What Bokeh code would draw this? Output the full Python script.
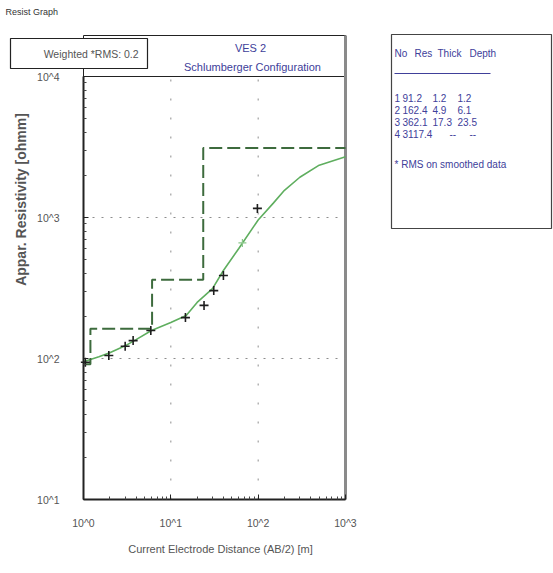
import math
from bokeh.plotting import figure
from bokeh.models import Range1d, FixedTicker, CustomJSTickFormatter, Label
from bokeh.embed import file_html
from bokeh.resources import INLINE
from bokeh.core.properties import value

# ---------------- data ----------------
layer_no = [1, 2, 3, 4]
layer_res = [91.2, 162.4, 362.1, 3117.4]
layer_thick = [1.2, 4.9, 17.3, None]
layer_depth = [1.2, 6.1, 23.5, None]

obs_x = [1.05, 1.95, 3.0, 3.7, 5.9, 14.7, 24, 31, 40, 98]
obs_rho = [94, 105, 122, 134, 158, 195, 238, 303, 388, 1160]
faint_x = [66]
faint_rho = [660]

calc_x = [1, 1.5, 2, 3, 4, 6, 10, 15, 20, 30, 40, 60, 100, 150, 200, 300, 500, 1000]
calc_rho = [95, 103, 110, 123, 136, 158, 180, 202, 250, 313, 421, 603, 960, 1270,
            1560, 1930, 2350, 2700]

x_ticks = [1, 10, 100, 1000]
y_ticks = [10, 100, 1000, 10000]
rms_value = 0.2
title_lines = ["VES 2", "Schlumberger Configuration"]
table_header = ["No", "Res", "Thick", "Depth"]
note_text = "* RMS on smoothed data"

# ---------------- page geometry (pixel -> data, for annotations) ----------------
W, H = 553, 573
FL, FR, FT, FB = 83, 345, 35, 499
DEC_X = (FR - FL) / 3.0
DEC_Y = 141.0


def X(px):
    return 10 ** ((px - FL) / DEC_X)


def Y(py):
    return 10 ** (1 + (FB - py) / DEC_Y)


FONT = "Liberation Sans"
BLUE = "#40409a"
GRAY = "#555555"
DARK = "#222222"

# ---------------- figure: frame covers the whole page ----------------
p = figure(width=W, height=H, x_axis_type="log", y_axis_type="log",
           x_range=Range1d(X(0), X(W)), y_range=Range1d(Y(H), Y(0)),
           output_backend="svg", toolbar_location=None, title=None,
           min_border=0, min_border_left=0, min_border_right=0,
           min_border_top=0, min_border_bottom=0)
p.background_fill_color = "white"
p.border_fill_color = "white"
p.outline_line_color = None
p.grid.visible = False

x_minor = [m * 10 ** k for k in range(0, 3) for m in range(2, 10)]
y_minor = [m * 10 ** k for k in range(1, 4) for m in range(2, 10)]
fmt = CustomJSTickFormatter(code="return '10^' + Math.round(Math.log10(tick));")

xa = p.xaxis[0]
xa.ticker = FixedTicker(ticks=x_ticks, minor_ticks=x_minor)
xa.fixed_location = y_ticks[0]
xa.bounds = (x_ticks[0], x_ticks[-1])
ya = p.yaxis[0]
ya.ticker = FixedTicker(ticks=y_ticks, minor_ticks=y_minor)
ya.fixed_location = x_ticks[0]
ya.bounds = (y_ticks[0], y_ticks[-1])

for ax in (xa, ya):
    ax.formatter = fmt
    ax.axis_line_color = DARK
    ax.axis_line_width = 2
    ax.major_tick_in = 5
    ax.major_tick_out = 0
    ax.minor_tick_in = 3
    ax.minor_tick_out = 0
    ax.major_tick_line_color = DARK
    ax.minor_tick_line_color = "#444444"
    ax.major_label_text_font = FONT
    ax.major_label_text_font_size = "10.5px"
    ax.major_label_text_color = GRAY
xa.major_label_standoff = 17
ya.major_label_standoff = 24

# plot box (incl. header strip) and header separator
p.quad(left=[x_ticks[0]], right=[x_ticks[-1]], bottom=[y_ticks[0]], top=[Y(FT)],
       fill_color=None, line_color=DARK, line_width=1)
p.segment(x0=[x_ticks[0]], y0=[y_ticks[-1]], x1=[x_ticks[-1]], y1=[y_ticks[-1]],
          line_color=DARK, line_width=1)
# thick gray right border
p.segment(x0=[x_ticks[-1]], y0=[y_ticks[0]], x1=[x_ticks[-1]], y1=[Y(FT)],
          line_color="#8a8a8a", line_width=3)

# dotted grid inside the plot box
gx = x_ticks[1:3]
gy = y_ticks[1:3]
p.segment(x0=gx, y0=[y_ticks[0]] * len(gx), x1=gx, y1=[y_ticks[-1]] * len(gx),
          line_color="#8c8c8c", line_width=1, line_dash="2 17")
p.segment(x0=[x_ticks[0]] * len(gy), y0=gy, x1=[x_ticks[-1]] * len(gy), y1=gy,
          line_color="#8c8c8c", line_width=1, line_dash="2 7")

# calculated curve
p.line(calc_x, calc_rho, line_color="#5fae5f", line_width=1.6)

# layered model step line
step_x = [1.0]
step_y = [layer_res[0]]
for i, d in enumerate(layer_depth[:-1]):
    step_x += [d, d]
    step_y += [layer_res[i], layer_res[i + 1]]
step_x.append(1000.0)
step_y.append(layer_res[-1])
p.line(step_x, step_y, line_color="#3d6b3d", line_width=2, line_dash="13 5")

# observed data
p.scatter(obs_x, obs_rho, marker="cross", size=9, line_color="#1e1e1e", line_width=1.6)
p.scatter(faint_x, faint_rho, marker="cross", size=8, line_color="#8cc78c", line_width=1.2)

# header texts
p.add_layout(Label(x=X(250), y=Y(47), text=title_lines[0], text_align="center",
                   text_baseline="middle", text_font=FONT,
                   text_font_size="11px", text_color=BLUE))
p.add_layout(Label(x=X(252), y=Y(66), text=title_lines[1], text_align="center",
                   text_baseline="middle", text_font=FONT,
                   text_font_size="11px", text_color=BLUE))

# weighted RMS box (drawn above the axis line)
p.quad(left=[X(10)], right=[X(147)], top=[Y(38)], bottom=[Y(68)],
       fill_color="white", line_color=DARK, line_width=1.2, level="overlay")
p.text(x=[X(141)], y=[Y(53)], text=["Weighted *RMS:  %.1f" % rms_value],
       text_align="right", text_baseline="middle", text_font=value(FONT),
       text_font_size="10.5px", text_color=GRAY, level="overlay")

# page title
p.add_layout(Label(x=X(5), y=Y(11), text="Resist Graph", text_align="left",
                   text_baseline="middle", text_font=FONT,
                   text_font_size="9px", text_color="#333333"))

# axis titles
p.add_layout(Label(x=X(20), y=Y(199), text="Appar. Resistivity [ohmm]",
                   angle=math.pi / 2, text_align="center", text_baseline="middle",
                   text_font=FONT, text_font_size="14px",
                   text_font_style="bold", text_color=GRAY))
p.add_layout(Label(x=X(220), y=Y(548), text="Current Electrode Distance (AB/2) [m]",
                   text_align="center", text_baseline="middle",
                   text_font=FONT, text_font_size="11px", text_color=GRAY))

# ---------------- layer table ----------------
p.quad(left=[X(391)], right=[X(551)], top=[Y(34)], bottom=[Y(228)],
       fill_color="white", line_color="#444444", line_width=1.2)

kw = dict(text_font=value(FONT), text_font_size="10px", text_color=BLUE,
          text_baseline="middle", text_align="left")
p.text(x=[X(v) for v in (394, 414, 437, 469)], y=[Y(53)] * 4, text=table_header, **kw)
p.segment(x0=[X(394)], y0=[Y(73)], x1=[X(490)], y1=[Y(73)], line_color=BLUE, line_width=1)

row_py = [97, 109, 121, 133]
fmt_num = lambda v: "--" if v is None else ("%.1f" % v)
p.text(x=[X(394)] * 4, y=[Y(v) for v in row_py], text=[str(n) for n in layer_no], **kw)
p.text(x=[X(402)] * 4, y=[Y(v) for v in row_py], text=[fmt_num(v) for v in layer_res], **kw)
p.text(x=[X(432 if v is not None else 449) for v in layer_thick], y=[Y(v) for v in row_py],
       text=[fmt_num(v) for v in layer_thick], **kw)
p.text(x=[X(457 if v is not None else 469) for v in layer_depth], y=[Y(v) for v in row_py],
       text=[fmt_num(v) for v in layer_depth], **kw)
p.text(x=[X(394)], y=[Y(164)], text=[note_text], **kw)

open("out.html", "w").write(file_html(p, INLINE))
